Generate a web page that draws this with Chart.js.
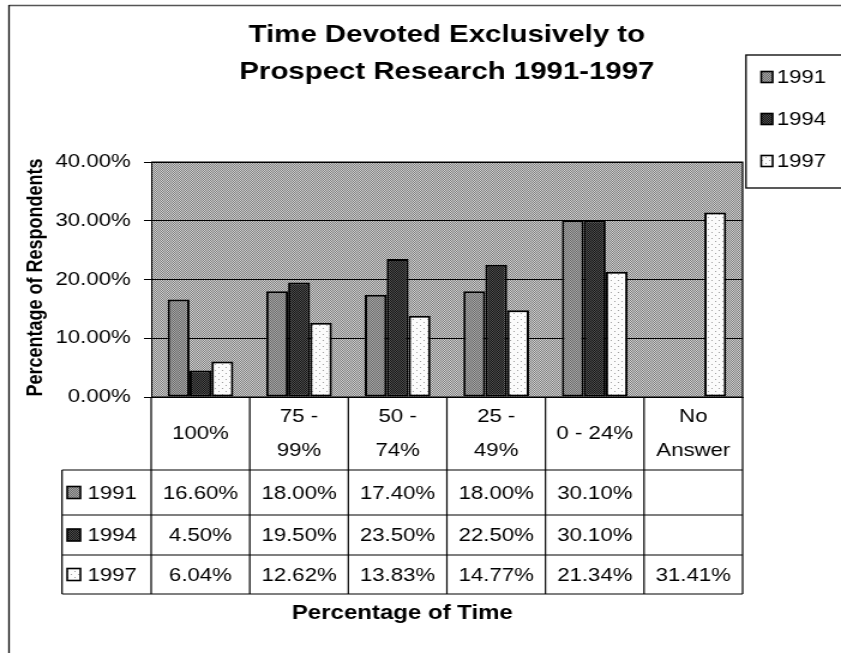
<!DOCTYPE html>
<html>
<head>
<meta charset="utf-8">
<script src="https://cdn.jsdelivr.net/npm/chart.js@4/dist/chart.umd.min.js"></script>
<style>
  html, body { margin: 0; padding: 0; background: #fff; overflow: hidden; }
  #wrap { width: 701px; height: 653px; transform-origin: 0 0; transform: scaleX(1.19971); }
  #c { display: block; }
</style>
</head>
<body>
<div id="wrap"><canvas id="c" width="701" height="653" style="width:701px;height:653px"></canvas></div>
<script>
// Survey categories (share of time spent on prospect research)
const categories = ['100%', ['75 -', '99%'], ['50 -', '74%'], ['25 -', '49%'], '0 - 24%', ['No', 'Answer']];
const seriesNames = ['1991', '1994', '1997'];
const values1991 = [16.6, 18.0, 17.4, 18.0, 30.1, null];
const values1994 = [4.5, 19.5, 23.5, 22.5, 30.1, null];
const values1997 = [6.04, 12.62, 13.83, 14.77, 21.34, 31.41];
const yTicks = [0, 10, 20, 30, 40];
const titleLines = ['Time Devoted Exclusively to', 'Prospect Research 1991-1997'];
const yTitle = 'Percentage of Respondents';
const xTitle = 'Percentage of Time';

const FONT = "'Liberation Sans', Arial, Helvetica, sans-serif";
const TEXT_SIZE = 18.5;
Chart.defaults.font.family = FONT;
Chart.defaults.color = '#000';

// Small tiled fills that give the plot and bars their screened look
function tile(w, h, colorAt) {
  const c = document.createElement('canvas');
  c.width = w; c.height = h;
  const g = c.getContext('2d');
  for (let y = 0; y < h; y++) {
    for (let x = 0; x < w; x++) {
      g.fillStyle = colorAt(x, y);
      g.fillRect(x, y, 1, 1);
    }
  }
  return g.createPattern(c, 'repeat');
}
const fills = {
  plot: tile(2, 2, (x, y) => ((x + y) % 2 ? '#7c7c7c' : '#d2d2d2')),
  s1991: tile(2, 2, (x, y) => ((x + y) % 2 ? '#6a6a6a' : '#a8a8a8')),
  s1994: tile(2, 2, (x, y) => ((x + y) % 2 ? '#141414' : '#505050')),
  s1997: tile(6, 6, (x, y) => ((x === 2 && y === 1) || (x === 5 && y === 4) ? '#a0a0a0' : '#fbfbfb'))
};
const seriesFills = [fills.s1991, fills.s1994, fills.s1997];
const seriesValues = [values1991, values1994, values1997];

// Fixed frame geometry (canvas units)
const KEY_COL_LEFT = 51.7;
const TABLE_ROWS = [397, 470, 515, 555, 594];
const LEGEND_BOX = { left: 621.8, top: 55, bottom: 188 };
const LEGEND_Y = [77, 119, 161];

function fmt(v) { return v == null ? '' : v.toFixed(2) + '%'; }

function drawKey(ctx, x, y, w, h, fill) {
  ctx.fillStyle = fill;
  ctx.fillRect(x, y, w, h);
  ctx.strokeStyle = '#000';
  ctx.lineWidth = 1.6;
  ctx.strokeRect(x, y, w, h);
}

const decor = {
  id: 'decor',
  beforeDraw(chart) {
    const { ctx, chartArea: a } = chart;
    ctx.save();
    ctx.fillStyle = '#fff';
    ctx.fillRect(0, 0, chart.width, chart.height);
    ctx.fillStyle = fills.plot;
    ctx.fillRect(a.left, a.top, a.right - a.left, a.bottom - a.top);
    ctx.restore();
  },
  afterDraw(chart) {
    const { ctx, chartArea: a } = chart;
    const xs = chart.scales.x;
    ctx.save();

    // outer frame
    ctx.lineWidth = 1.3;
    ctx.strokeStyle = '#555';
    ctx.beginPath(); ctx.moveTo(7.5, 5.5); ctx.lineTo(chart.width, 5.5); ctx.stroke();
    ctx.strokeStyle = '#111';
    ctx.beginPath(); ctx.moveTo(7.5, 5); ctx.lineTo(7.5, chart.height); ctx.stroke();

    // plot border (top and right)
    ctx.strokeStyle = '#000';
    ctx.lineWidth = 1.2;
    ctx.beginPath();
    ctx.moveTo(a.left, a.top); ctx.lineTo(a.right, a.top); ctx.lineTo(a.right, a.bottom);
    ctx.stroke();

    // title
    const cx = (a.left + a.right) / 2;
    ctx.fillStyle = '#000';
    ctx.textAlign = 'center';
    ctx.textBaseline = 'alphabetic';
    ctx.font = 'bold 24.5px ' + FONT;
    ctx.fillText(titleLines[0], cx, 42);
    ctx.fillText(titleLines[1], cx, 79);

    // legend box
    ctx.lineWidth = 1.3;
    ctx.strokeStyle = '#000';
    ctx.strokeRect(LEGEND_BOX.left, LEGEND_BOX.top, chart.width + 10 - LEGEND_BOX.left, LEGEND_BOX.bottom - LEGEND_BOX.top);
    ctx.font = TEXT_SIZE + 'px ' + FONT;
    ctx.textAlign = 'left';
    ctx.textBaseline = 'middle';
    seriesNames.forEach((name, i) => {
      drawKey(ctx, 634.5, LEGEND_Y[i] - 5.5, 9.5, 11, seriesFills[i]);
      ctx.fillStyle = '#000';
      ctx.fillText(name, 647.5, LEGEND_Y[i] + 1);
    });

    // data table under the axis
    const n = categories.length;
    const edges = [];
    for (let i = 0; i <= n; i++) {
      if (i === 0) edges.push(a.left);
      else if (i === n) edges.push(a.right);
      else edges.push((xs.getPixelForValue(i - 1) + xs.getPixelForValue(i)) / 2);
    }
    const top = TABLE_ROWS[0], bottom = TABLE_ROWS[TABLE_ROWS.length - 1];
    ctx.strokeStyle = '#000';
    ctx.lineWidth = 1.2;
    ctx.beginPath();
    edges.forEach(x => { ctx.moveTo(x, top); ctx.lineTo(x, bottom); });
    ctx.moveTo(KEY_COL_LEFT, TABLE_ROWS[1]); ctx.lineTo(KEY_COL_LEFT, bottom);
    ctx.moveTo(a.left, top); ctx.lineTo(a.right, top);
    for (let r = 1; r < TABLE_ROWS.length; r++) {
      ctx.moveTo(KEY_COL_LEFT, TABLE_ROWS[r]); ctx.lineTo(a.right, TABLE_ROWS[r]);
    }
    ctx.stroke();

    ctx.fillStyle = '#000';
    ctx.font = TEXT_SIZE + 'px ' + FONT;
    ctx.textAlign = 'center';
    ctx.textBaseline = 'middle';
    const headMid = (TABLE_ROWS[0] + TABLE_ROWS[1]) / 2;
    categories.forEach((lab, i) => {
      const x = xs.getPixelForValue(i);
      if (Array.isArray(lab)) {
        ctx.fillText(lab[0], x, headMid - 17);
        ctx.fillText(lab[1], x, headMid + 17);
      } else {
        ctx.fillText(lab, x, headMid);
      }
    });
    seriesNames.forEach((name, s) => {
      const mid = (TABLE_ROWS[s + 1] + TABLE_ROWS[s + 2]) / 2;
      drawKey(ctx, 56, mid - 6, 11, 12, seriesFills[s]);
      ctx.fillStyle = '#000';
      ctx.textAlign = 'left';
      ctx.fillText(name, 73, mid + 1);
      ctx.textAlign = 'center';
      seriesValues[s].forEach((v, i) => {
        ctx.fillText(fmt(v), xs.getPixelForValue(i), mid + 1);
      });
    });

    // axis titles
    ctx.font = 'bold 20px ' + FONT;
    ctx.textAlign = 'center';
    ctx.textBaseline = 'middle';
    ctx.fillText(xTitle, (KEY_COL_LEFT + a.right) / 2, 613);
    ctx.save();
    ctx.translate(29.6, (a.top + a.bottom) / 2 - 2);
    ctx.rotate(-Math.PI / 2);
    ctx.font = 'bold 18px ' + FONT;
    ctx.fillText(yTitle, 0, 0);
    ctx.restore();

    ctx.restore();
  }
};

new Chart(document.getElementById('c'), {
  type: 'bar',
  data: {
    labels: categories,
    datasets: seriesNames.map((name, i) => ({
      label: name,
      data: seriesValues[i],
      backgroundColor: seriesFills[i],
      borderColor: '#000',
      borderWidth: 2,
      borderSkipped: false,
      categoryPercentage: 2 / 3,
      barPercentage: 1
    }))
  },
  options: {
    responsive: false,
    animation: false,
    events: [],
    devicePixelRatio: 1,
    layout: { padding: { left: 6, right: 82, top: 162, bottom: 256 } },
    plugins: {
      legend: { display: false },
      title: { display: false },
      tooltip: { enabled: false }
    },
    scales: {
      x: {
        grid: { display: false },
        ticks: { display: false },
        border: { display: true, color: '#000', width: 1 },
        afterFit(scale) { scale.height = 0; }
      },
      y: {
        min: yTicks[0],
        max: yTicks[yTicks.length - 1],
        afterBuildTicks(scale) { scale.ticks = yTicks.map(v => ({ value: v })); },
        ticks: {
          callback: v => v.toFixed(2) + '%',
          color: '#000',
          font: { size: TEXT_SIZE },
          padding: 11
        },
        grid: { color: '#000', lineWidth: 1, tickLength: 6, drawTicks: true },
        border: { display: true, color: '#000', width: 1 },
        afterFit(scale) { scale.width = 120; }
      }
    }
  },
  plugins: [decor]
});
</script>
</body>
</html>
